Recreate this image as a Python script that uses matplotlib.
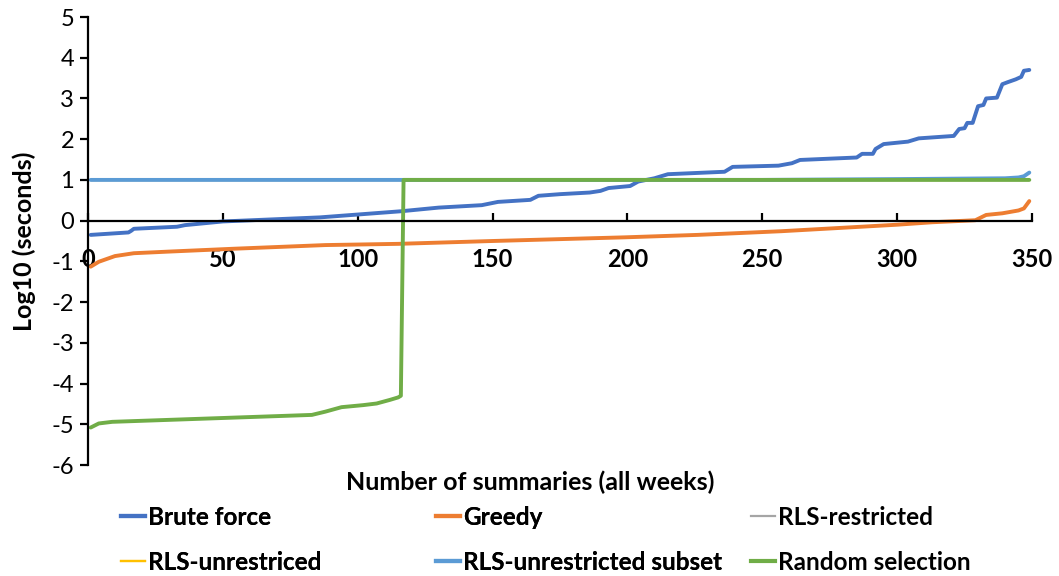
import matplotlib
matplotlib.use("Agg")
import matplotlib.pyplot as plt
from matplotlib.lines import Line2D

plt.rcParams['font.family'] = ['Lato', 'DejaVu Sans']

# ---- data ----
bf_x = [1, 15, 16, 17, 33, 36, 50, 68, 86, 98, 116, 130, 146, 152, 164, 167, 175,
        186, 190, 193, 201, 204, 210, 215, 236, 239, 256, 261, 264, 285, 287, 291,
        292, 295, 304, 308, 321, 323, 325, 326, 328, 330, 332, 333, 337, 339, 341,
        344, 346, 347, 349]
bf_y = [-0.35, -0.29, -0.25, -0.20, -0.15, -0.11, -0.02, 0.03, 0.08, 0.14, 0.23,
        0.32, 0.38, 0.46, 0.51, 0.61, 0.65, 0.69, 0.73, 0.80, 0.85, 0.96, 1.04,
        1.14, 1.20, 1.32, 1.35, 1.41, 1.49, 1.55, 1.64, 1.64, 1.76, 1.88, 1.94,
        2.02, 2.08, 2.25, 2.27, 2.40, 2.40, 2.81, 2.84, 3.00, 3.02, 3.35, 3.40,
        3.47, 3.53, 3.68, 3.70]

gr_x = [1, 4, 10, 17, 30, 54, 88, 115, 150, 199, 226, 257, 300, 313, 329, 333,
        339, 345, 347, 349]
gr_y = [-1.13, -1.01, -0.87, -0.80, -0.76, -0.69, -0.60, -0.57, -0.50, -0.41,
        -0.35, -0.26, -0.10, -0.04, 0.01, 0.14, 0.18, 0.25, 0.30, 0.48]

rr_x = [1, 349]
rr_y = [1.0, 1.0]

ru_x = [1, 349]
ru_y = [1.0, 1.0]

rs_sub_x = [1, 250, 300, 340, 345, 347, 349]
rs_sub_y = [1.0, 1.0, 1.02, 1.04, 1.06, 1.09, 1.18]

rand_x = [1, 4, 9, 83, 88, 94, 102, 107, 112, 115, 116, 117, 349]
rand_y = [-5.08, -4.98, -4.94, -4.77, -4.69, -4.58, -4.53, -4.49, -4.40, -4.34,
          -4.30, 1.0, 1.0]

x_ticks = [0, 50, 100, 150, 200, 250, 300, 350]
y_ticks = [-6, -5, -4, -3, -2, -1, 0, 1, 2, 3, 4, 5]

labels = ['Brute force', 'Greedy', 'RLS-restricted', 'RLS-unrestriced',
          'RLS-unrestricted subset', 'Random selection']
colors = ['#4472C4', '#ED7D31', '#A5A5A5', '#FFC000', '#5B9BD5', '#70AD47']

# ---- figure ----
fig = plt.figure(figsize=(10.59, 5.76), dpi=100)
ax = fig.add_axes([88 / 1059, 1 - 465 / 576, (1032 - 88) / 1059, (465 - 17) / 576])

series = [(bf_x, bf_y), (gr_x, gr_y), (rr_x, rr_y), (ru_x, ru_y),
          (rs_sub_x, rs_sub_y), (rand_x, rand_y)]
widths = [2.8, 2.8, 1.6, 1.6, 2.8, 2.8]
for (sx, sy), c, lw, lab in zip(series, colors, widths, labels):
    ax.plot(sx, sy, color=c, lw=lw, label=lab, solid_joinstyle='round',
            solid_capstyle='round')

# spines first (set_position resets tick properties)
ax.spines['top'].set_visible(False)
ax.spines['right'].set_visible(False)
ax.spines['bottom'].set_position(('data', 0))
for s in ('left', 'bottom'):
    ax.spines[s].set_linewidth(1.6)
    ax.spines[s].set_color('black')

ax.set_xlim(0, 350)
ax.set_ylim(-6, 5)
ax.set_xticks(x_ticks)
ax.set_yticks(y_ticks)
ax.set_xticklabels([str(v) for v in x_ticks], fontsize=17, fontweight='bold')
ax.set_yticklabels([str(v) for v in y_ticks], fontsize=17)
ax.tick_params(axis='x', direction='in', length=6, width=1.6, pad=20)
ax.tick_params(axis='y', direction='out', length=6, width=1.6, pad=4)

ax.set_xlabel('Number of summaries (all weeks)', fontsize=18, fontweight='bold')
ax.xaxis.set_label_coords(0.468, -0.012)
ax.set_ylabel('Log10 (seconds)', fontsize=18, fontweight='bold')
ax.yaxis.set_label_coords(-0.055, 0.5)

# legend: three columns, each placed at its own x position
handles = [Line2D([0], [0], color=c, lw=(3 if w > 2 else 1.6)) for c, w in zip(colors, widths)]
col_x = [121, 436, 751]
for i, cx in enumerate(col_x):
    hs = [handles[i], handles[i + 3]]
    ls = [labels[i], labels[i + 3]]
    leg = fig.legend(hs, ls, loc='upper left',
                     bbox_to_anchor=(cx / 1059, 1 - 506 / 576),
                     frameon=False, handlelength=1.0, handletextpad=0.1,
                     labelspacing=0.9, borderpad=0, borderaxespad=0,
                     prop={'size': 17.5, 'weight': 'bold'})
    if i < 2:
        fig.add_artist(leg)

fig.savefig('out.png', dpi=100)
